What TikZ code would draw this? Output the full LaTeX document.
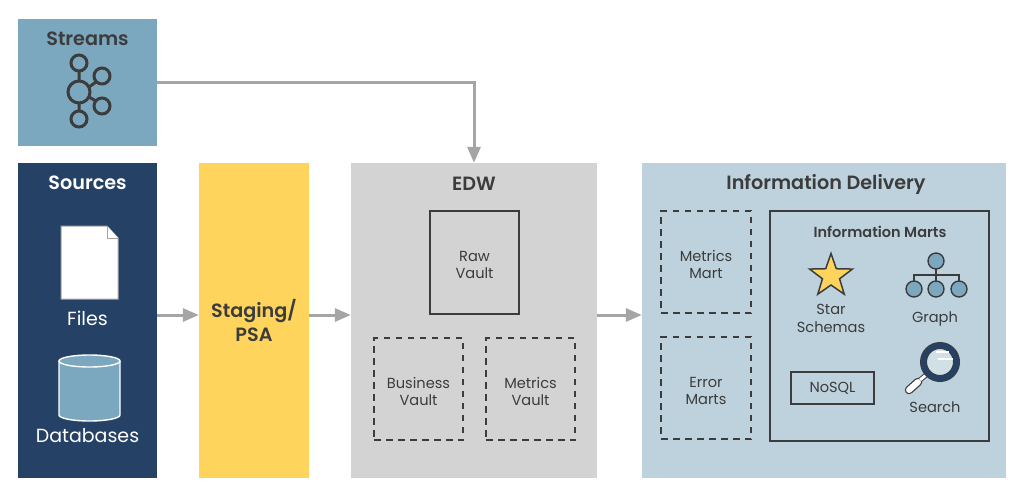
\documentclass[tikz,border=0pt]{standalone}
\usepackage{fontspec}
\setmainfont{Poppins}
\newfontface\titlefont{Poppins SemiBold}
\usetikzlibrary{shapes.geometric,arrows.meta}
\definecolor{streamblue}{HTML}{7BA7BF}
\definecolor{sourcenavy}{HTML}{254266}
\definecolor{stagingyellow}{HTML}{FFD45C}
\definecolor{edwgray}{HTML}{D3D3D3}
\definecolor{deliveryblue}{HTML}{BDD2DD}
\definecolor{inkgray}{HTML}{3C3C3C}
\definecolor{flowgray}{HTML}{A5A5A5}
\newcommand{\boxlift}{\rule{0pt}{16pt}}
\begin{document}
\begin{tikzpicture}[
    x=1pt, y=-1pt,
    panel/.style args={#1/#2/#3}{
        fill=#1, minimum width=#2pt, minimum height=#3pt, inner sep=0pt
    },
    solidbox/.style args={#1/#2}{
        draw=inkgray, line width=1.7pt, minimum width=#1pt, minimum height=#2pt,
        inner sep=0pt, align=center, text=inkgray, font=\fontsize{14.6}{17}\selectfont
    },
    dashbox/.style args={#1/#2}{
        solidbox={#1/#2}, line width=1.5pt, dash pattern=on 6.5pt off 5.5pt
    },
    heading/.style={font=\titlefont\fontsize{19.2}{22}\selectfont, text=inkgray},
    caption/.style={font=\fontsize{14.6}{18}\selectfont, text=inkgray, align=center},
    flow/.style={draw=flowgray, line width=3pt, -{Triangle[length=16pt,width=13pt]}},
    % ~~~ icons ~~~~~~~~~~~~~~~~~~~~~~~~~~~~~~~~~~~~~~~~~~~~
    pics/hubicon/.style={
        code={
            \draw[inkgray, line width=3pt]
                (0,-21) -- (0,-11) (0,11) -- (0,19)
                (10,-5) -- (17,-10) (10,5) -- (17,9);
            \draw[inkgray, line width=3pt] (0,0) circle (11);
            \foreach \cx/\cy in {0/-29,23/-16,23/14,0/27}
                \draw[inkgray, line width=3pt] (\cx,\cy) circle (8);
        } % end code
    }, % end pics
    pics/fileicon/.style={
        code={
            \draw[fill=white, draw=flowgray, line width=1pt]
                (0,0) -- (46,0) -- (57,12) -- (57,73) -- (0,73) -- cycle;
            \draw[fill=white, draw=flowgray, line width=1pt]
                (46,0) -- (46,12) -- (57,12);
        } % end code
    }, % end pics
    pics/dbicon/.style={
        code={
            \draw[fill=streamblue, draw=white, line width=1.4pt]
                (-30.5,0) -- (-30.5,54) arc[start angle=180, end angle=360, x radius=30.5, y radius=-6]
                -- (30.5,0);
            \draw[fill=streamblue, draw=white, line width=1.4pt]
                (0,0) ellipse (30.5 and 6);
        } % end code
    }, % end pics
    pics/treeicon/.style={
        code={
            \draw[inkgray, line width=1.4pt] (0,0) -- (0,14) (-22,28) -- (-22,14) -- (23,14) -- (23,28) (0,14) -- (0,28);
            \foreach \cx/\cy in {0/0,-22/28,0/28,23/28}
                \draw[fill=streamblue, draw=inkgray, line width=1.4pt] (\cx,\cy) circle (8);
        } % end code
    }, % end pics
    pics/lensicon/.style={
        code={
            \draw[line cap=round, draw=inkgray, line width=8.5pt] (-22,20) -- (-31,28);
            \draw[line cap=round, draw=white, line width=6pt] (-22,20) -- (-31,28);
            \draw[draw=inkgray, line width=5pt] (-14,13) -- (-20,18);
            \draw[draw=white, line width=3pt] (-14,13) -- (-20,18);
            \draw[fill=deliveryblue!70!white, draw=inkgray, line width=7pt] (0,0) circle (16.5);
            \draw[draw=sourcenavy, line width=5pt] (0,0) circle (16.5);
            \draw[white, line width=1.5pt] (-4,-10) -- (9,-10);
            \draw[white, line width=2.5pt] (-2,-3) -- (13,-3);
        } % end code
    }, % end pics
 ]
    \useasboundingbox (0,0) rectangle (1024,499);

    % ~~~ the big panels ~~~~~~~~~~~~~~~~~~~~~~~~~~~~~~~~
    \node[panel={streamblue/139/127}]  (streams)  at (87.5,82.5)  {};
    \node[panel={sourcenavy/139/315}]  (sources)  at (87.5,320.5) {};
    \node[panel={stagingyellow/110/315}, font=\titlefont\fontsize{19.2}{24}\selectfont,
          text=inkgray, align=center]  (staging)  at (254,320.5)  {Staging/\\PSA};
    \node[panel={edwgray/246/315}]     (edw)      at (474,320.5)  {};
    \node[panel={deliveryblue/364/315}] (delivery) at (824,320.5) {};

    % ~~~ titles ~~~~~~~~~~~~~~~~~~~~~~~~~~~~~~~~~~~~~~~~
    \node[heading]            (streamsT)  at (87.5,38.5) {Streams};
    \node[heading, text=white] (sourcesT) at (87.5,183)  {Sources};
    \node[heading]            (edwT)      at (474,184)   {EDW};
    \node[heading]            (deliveryT) at (826,184)   {Information Delivery};

    % ~~~ sources ~~~~~~~~~~~~~~~~~~~~~~~~~~~~~~~~~~~~~~~
    \pic at (79,92)   {hubicon};
    \pic at (61,226)  {fileicon};
    \pic at (89.5,361) {dbicon};
    \node[caption, text=white, font=\fontsize{19}{22}\selectfont] (files)     at (87.5,318) {Files};
    \node[caption, text=white, font=\fontsize{19}{22}\selectfont] (databases) at (87.5,436) {Databases};

    % ~~~ vaults ~~~~~~~~~~~~~~~~~~~~~~~~~~~~~~~~~~~~~~~~
    \node[solidbox={89/103}] (rawV)      at (474.5,262.5) {\boxlift Raw\\Vault};
    \node[dashbox={89/102}]  (businessV) at (418.5,389)   {\boxlift Business\\Vault};
    \node[dashbox={89/102}]  (metricsV)  at (530.5,389)   {\boxlift Metrics\\Vault};

    % ~~~ marts ~~~~~~~~~~~~~~~~~~~~~~~~~~~~~~~~~~~~~~~~~
    \node[dashbox={90/102}]  (metricsM)  at (706,262)     {\boxlift Metrics\\Mart};
    \node[dashbox={90/102}]  (errorM)    at (706,388)     {\boxlift Error\\Marts};
    \node[solidbox={219/230}] (infoM)    at (879.5,326)   {};
    \node[heading, font=\titlefont\fontsize{14.5}{16}\selectfont]
                             (infoMT)    at (880,232)     {Information Marts};
    \node[star, star points=5, star point ratio=2.5, fill=stagingyellow,
          draw=inkgray, line width=1.5pt, minimum size=45pt, inner sep=0pt]
                             (starI)     at (831,276)     {};
    \node[caption] (starT)   at (831,318) {Star\\Schemas};
    \pic at (936,261) {treeicon};
    \node[caption] (graphT)  at (935,319) {Graph};
    \node[solidbox={83/32}, line width=1.4pt] (nosql) at (832.5,388) {NoSQL};
    \pic at (940,362) {lensicon};
    \node[caption] (searchT) at (935,407) {Search};

    % ~~~ connectors ~~~~~~~~~~~~~~~~~~~~~~~~~~~~~~~~~~~~
    \coordinate (flowline) at (0,315);
    \draw[flow] (streams.east) -| (edw.north);
    \draw[flow] (sources.east |- flowline) -- (staging.west |- flowline);
    \draw[flow] (staging.east |- flowline) -- (edw.west |- flowline);
    \draw[flow] (edw.east |- flowline) -- (delivery.west |- flowline);
\end{tikzpicture}
\end{document}
